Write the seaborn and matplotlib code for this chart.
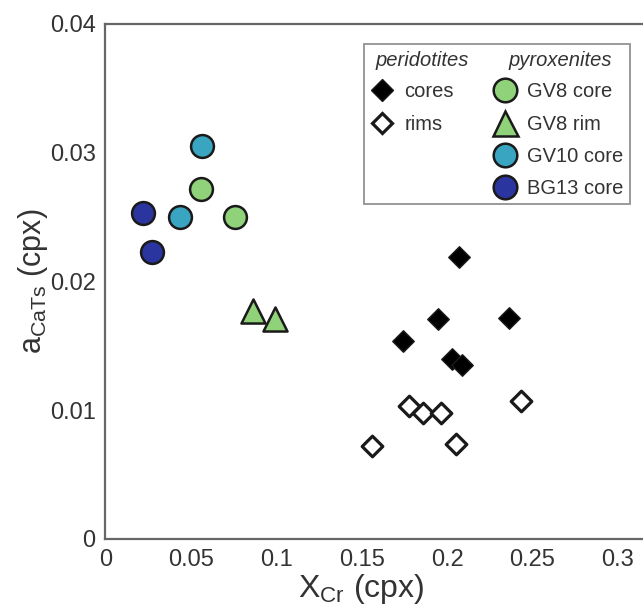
import numpy as np
import pandas as pd
import matplotlib.pyplot as plt
import seaborn as sns
from matplotlib.lines import Line2D

sns.set_theme(style="white")
plt.rcParams['font.family'] = ['Liberation Sans', 'DejaVu Sans']
plt.rcParams['mathtext.default'] = 'regular'

# peridotites
core_x = [0.207, 0.1945, 0.236, 0.174, 0.203, 0.2085]
core_y = [0.0219, 0.0171, 0.0172, 0.0154, 0.0140, 0.0135]
rim_x = [0.178, 0.186, 0.1965, 0.2435, 0.156, 0.2055]
rim_y = [0.0103, 0.0098, 0.0098, 0.0107, 0.0072, 0.0074]

# pyroxenites
gv8c_x = [0.0557, 0.0758]
gv8c_y = [0.0272, 0.0250]
gv8r_x = [0.0865, 0.0992]
gv8r_y = [0.0177, 0.0171]
gv10_x = [0.0563, 0.0436]
gv10_y = [0.0305, 0.0250]
bg13_x = [0.0221, 0.0270]
bg13_y = [0.0253, 0.0223]

xticks = [0, 0.05, 0.1, 0.15, 0.2, 0.25, 0.3]
xtick_labels = ["0", "0.05", "0.1", "0.15", "0.2", "0.25", "0.3"]
yticks = [0, 0.01, 0.02, 0.03, 0.04]
ytick_labels = ["0", "0.01", "0.02", "0.03", "0.04"]

edge = "#1a1a1a"
txt = "#333333"
green = "#8fd27a"
teal = "#3aa5c0"
blue = "#2b35a0"

fig = plt.figure(figsize=(6.43, 6.10), dpi=100)
ax = fig.add_axes([0.164, 0.1164, 0.836, 0.8443])

sns.scatterplot(x=core_x, y=core_y, marker="D", s=120, color="black",
                edgecolor=edge, linewidth=1, ax=ax, zorder=3)
sns.scatterplot(x=rim_x, y=rim_y, marker="D", s=110, color="white",
                edgecolor=edge, linewidth=2.3, ax=ax, zorder=3)
sns.scatterplot(x=gv8c_x, y=gv8c_y, marker="o", s=270, color=green,
                edgecolor=edge, linewidth=1.8, ax=ax, zorder=3)
sns.scatterplot(x=gv8r_x, y=gv8r_y, marker="^", s=300, color=green,
                edgecolor=edge, linewidth=1.8, ax=ax, zorder=3)
sns.scatterplot(x=gv10_x, y=gv10_y, marker="o", s=270, color=teal,
                edgecolor=edge, linewidth=1.8, ax=ax, zorder=3)
sns.scatterplot(x=bg13_x, y=bg13_y, marker="o", s=270, color=blue,
                edgecolor=edge, linewidth=1.8, ax=ax, zorder=3)

ax.set_xlim(0, 0.3147)
ax.set_ylim(0, 0.04)
ax.set_xticks(xticks)
ax.set_xticklabels(xtick_labels)
ax.set_yticks(yticks)
ax.set_yticklabels(ytick_labels)
ax.tick_params(direction="in", length=9, width=1.2, color="#555555",
               labelsize=17, labelcolor=txt, pad=7)
for side in ["left", "bottom", "top"]:
    ax.spines[side].set_color("#666666")
    ax.spines[side].set_linewidth(1.6)
ax.spines["right"].set_visible(False)

ax.set_xlabel(r"X$_{Cr}$ (cpx)", fontsize=23, color=txt, labelpad=1)
ax.xaxis.label.set_x(0.475)
ax.set_ylabel(r"a$_{CaTs}$ (cpx)", fontsize=22, color=txt, labelpad=0)

# legend
blank = Line2D([], [], linestyle="none")
def mk(m, fc, ms, mew):
    return Line2D([], [], linestyle="none", marker=m, markerfacecolor=fc,
                  markeredgecolor=edge, markersize=ms, markeredgewidth=mew)

handles = [blank, mk("D", "black", 11, 1), mk("D", "white", 10.5, 2.3), blank, blank,
           blank, mk("o", green, 17, 1.8), mk("^", green, 18, 1.8),
           mk("o", teal, 17, 1.8), mk("o", blue, 17, 1.8)]
labels = [" ", "cores", "rims", " ", " ",
          " ", "GV8 core", "GV8 rim", "GV10 core", "BG13 core"]
leg = ax.legend(handles, labels, ncol=2, loc="upper right",
                bbox_to_anchor=(0.975, 0.961), borderaxespad=0,
                fontsize=14.5, handlelength=1.2, handletextpad=0.5,
                columnspacing=1.95, labelspacing=0.66, borderpad=0.3,
                frameon=True, fancybox=False, edgecolor="#777777",
                labelcolor=txt)
leg.get_frame().set_linewidth(1.3)

for xpos, head in [(0.503, "peridotites"), (0.749, "pyroxenites")]:
    ax.text(xpos, 0.93, head, transform=ax.transAxes, fontsize=14.5,
            style="italic", color=txt, va="center", ha="left", zorder=10)

fig.savefig("out.png", dpi=100)
